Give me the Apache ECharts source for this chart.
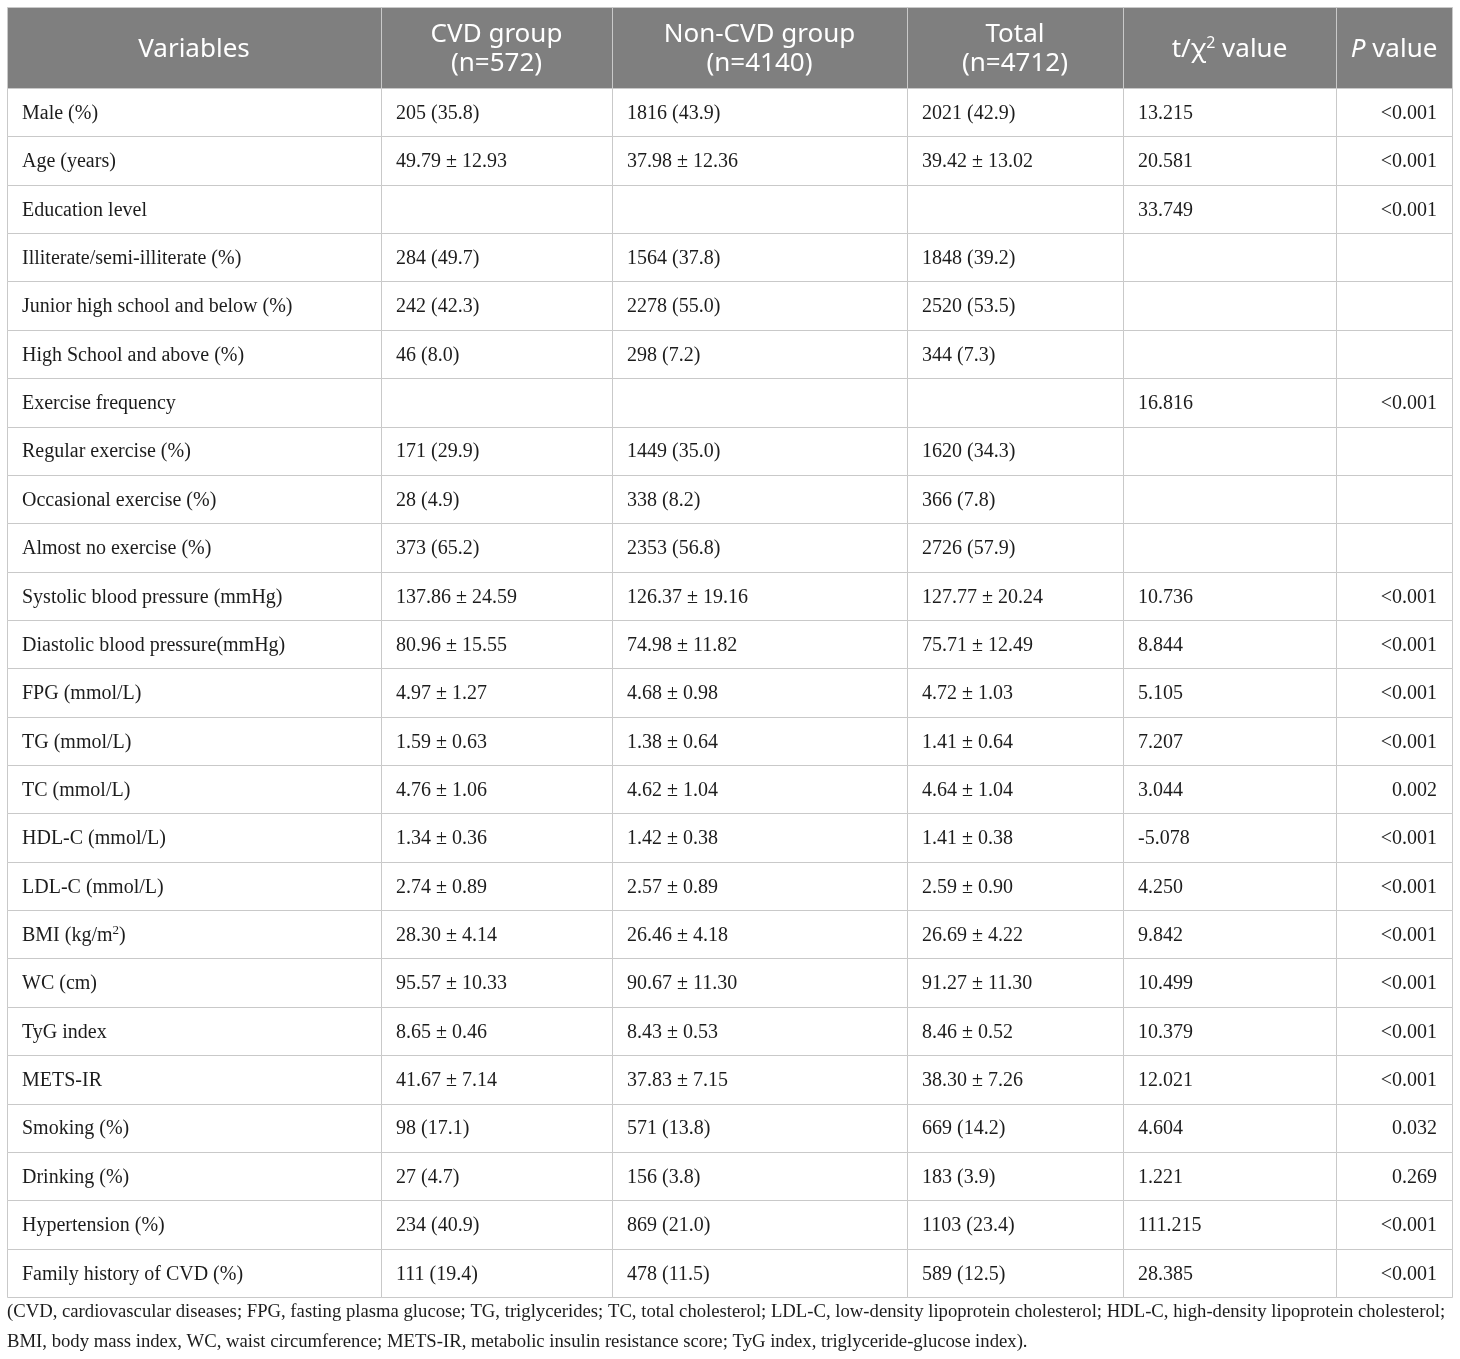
<!DOCTYPE html>
<html>
<head>
<meta charset="utf-8">
<title>CVD baseline table</title>
<script src="https://cdn.jsdelivr.net/npm/echarts@6/dist/echarts.min.js"></script>
<style>
  html, body { margin: 0; padding: 0; background: #fff; }
  #main { width: 1460px; height: 1359px; }
</style>
</head>
<body>
<div id="main"></div>
<script>
// table contents
var headers = ['Variables', 'CVD group\n(n=572)', 'Non-CVD group\n(n=4140)', 'Total\n(n=4712)', 't/χ² value', 'P value'];

var variables = [
    'Male (%)', 'Age (years)', 'Education level', 'Illiterate/semi-illiterate (%)',
    'Junior high school and below (%)', 'High School and above (%)', 'Exercise frequency',
    'Regular exercise (%)', 'Occasional exercise (%)', 'Almost no exercise (%)',
    'Systolic blood pressure (mmHg)', 'Diastolic blood pressure(mmHg)', 'FPG (mmol/L)',
    'TG (mmol/L)', 'TC (mmol/L)', 'HDL-C (mmol/L)', 'LDL-C (mmol/L)', 'BMI (kg/m²)',
    'WC (cm)', 'TyG index', 'METS-IR', 'Smoking (%)', 'Drinking (%)', 'Hypertension (%)',
    'Family history of CVD (%)'
];
var cvdGroup = [
    '205 (35.8)', '49.79 ± 12.93', '', '284 (49.7)', '242 (42.3)', '46 (8.0)', '',
    '171 (29.9)', '28 (4.9)', '373 (65.2)', '137.86 ± 24.59', '80.96 ± 15.55', '4.97 ± 1.27',
    '1.59 ± 0.63', '4.76 ± 1.06', '1.34 ± 0.36', '2.74 ± 0.89', '28.30 ± 4.14', '95.57 ± 10.33',
    '8.65 ± 0.46', '41.67 ± 7.14', '98 (17.1)', '27 (4.7)', '234 (40.9)', '111 (19.4)'
];
var nonCvdGroup = [
    '1816 (43.9)', '37.98 ± 12.36', '', '1564 (37.8)', '2278 (55.0)', '298 (7.2)', '',
    '1449 (35.0)', '338 (8.2)', '2353 (56.8)', '126.37 ± 19.16', '74.98 ± 11.82', '4.68 ± 0.98',
    '1.38 ± 0.64', '4.62 ± 1.04', '1.42 ± 0.38', '2.57 ± 0.89', '26.46 ± 4.18', '90.67 ± 11.30',
    '8.43 ± 0.53', '37.83 ± 7.15', '571 (13.8)', '156 (3.8)', '869 (21.0)', '478 (11.5)'
];
var totalGroup = [
    '2021 (42.9)', '39.42 ± 13.02', '', '1848 (39.2)', '2520 (53.5)', '344 (7.3)', '',
    '1620 (34.3)', '366 (7.8)', '2726 (57.9)', '127.77 ± 20.24', '75.71 ± 12.49', '4.72 ± 1.03',
    '1.41 ± 0.64', '4.64 ± 1.04', '1.41 ± 0.38', '2.59 ± 0.90', '26.69 ± 4.22', '91.27 ± 11.30',
    '8.46 ± 0.52', '38.30 ± 7.26', '669 (14.2)', '183 (3.9)', '1103 (23.4)', '589 (12.5)'
];
var statValue = [
    '13.215', '20.581', '33.749', '', '', '', '16.816', '', '', '',
    '10.736', '8.844', '5.105', '7.207', '3.044', '-5.078', '4.250', '9.842', '10.499',
    '10.379', '12.021', '4.604', '1.221', '111.215', '28.385'
];
var pValue = [
    '<0.001', '<0.001', '<0.001', '', '', '', '<0.001', '', '', '',
    '<0.001', '<0.001', '<0.001', '<0.001', '0.002', '<0.001', '<0.001', '<0.001', '<0.001',
    '<0.001', '<0.001', '0.032', '0.269', '<0.001', '<0.001'
];
var footnote = [
    '(CVD, cardiovascular diseases; FPG, fasting plasma glucose; TG, triglycerides; TC, total cholesterol; LDL-C, low-density lipoprotein cholesterol; HDL-C, high-density lipoprotein cholesterol;',
    'BMI, body mass index, WC, waist circumference; METS-IR, metabolic insulin resistance score; TyG index, triglyceride-glucose index).'
];

// layout
var colEdges = [0, 374, 605, 900, 1116, 1329, 1445];
var tableWidth = 1445;
var lineColor = '#c9c9c9';
var headFont = '"Noto Sans", "Open Sans", sans-serif';
var bodyFont = '"Liberation Serif", "Times New Roman", serif';
var headSize = 26;
var bodySize = 20;
var pad = 15;

var rowIndex = variables.map(function (v, i) { return String(i); });

var bodyTexts = [];
var bodyData = [];
variables.forEach(function (v, r) {
    [variables[r], cvdGroup[r], nonCvdGroup[r], totalGroup[r], statValue[r], pValue[r]].forEach(function (t, c) {
        bodyData.push([c, r]);
        bodyTexts.push(t);
    });
});
var headData = headers.map(function (h, c) { return [c, 0]; });

// turn "²" into a raised rich token
function toRich(text, key) {
    var parts = text.split('²');
    var out = '';
    parts.forEach(function (p, i) {
        if (p) out += '{' + key + '|' + p + '}';
        if (i < parts.length - 1) out += '{' + key + 'Sup|2}';
    });
    return out;
}

var richStyles = {
    h: { fontFamily: headFont, fontSize: headSize, fill: '#fff', lineHeight: 29 },
    hSup: { fontFamily: headFont, fontSize: 16, fill: '#fff', verticalAlign: 'top', lineHeight: 15 },
    hIt: { fontFamily: headFont, fontSize: headSize, fontStyle: 'italic', fill: '#fff', lineHeight: 29 },
    b: { fontFamily: bodyFont, fontSize: bodySize, fill: '#1c1c1c', lineHeight: 23 },
    bSup: { fontFamily: bodyFont, fontSize: 13, fill: '#1c1c1c', verticalAlign: 'top', lineHeight: 12 }
};

function cellRenderer(isHead) {
    return function (params, api) {
        var col = api.value(0);
        var row = api.value(1);
        var x0 = Math.round(api.coord([colEdges[col], row])[0]);
        var x1 = Math.round(api.coord([colEdges[col + 1], row])[0]);
        var mid = api.coord([0, row])[1];
        var h = api.size([0, 1])[1];
        var y0 = Math.round(mid - h / 2);
        var y1 = Math.round(mid + h / 2);
        var text = isHead ? headers[col] : bodyTexts[params.dataIndex];

        var tx, align;
        if (isHead) { tx = (x0 + x1) / 2; align = 'center'; }
        else if (col === 5) { tx = x1 - pad; align = 'right'; }
        else { tx = x0 + pad; align = 'left'; }

        var textStyle = {
            x: tx, y: mid + (isHead ? 2 : 1.5), align: align, verticalAlign: 'middle',
            fontFamily: isHead ? headFont : bodyFont,
            fontSize: isHead ? headSize : bodySize,
            lineHeight: isHead ? 29 : 23,
            fill: isHead ? '#fff' : '#1c1c1c',
            rich: richStyles
        };
        if (isHead && text === 'P value') {
            textStyle.text = '{hIt|P}{h| value}';
        } else if (text.indexOf('²') >= 0) {
            textStyle.text = toRich(text, isHead ? 'h' : 'b');
        } else {
            textStyle.text = text;
        }

        return {
            type: 'group',
            children: [
                {
                    type: 'rect',
                    shape: { x: x0 + 0.5, y: y0 + 0.5, width: x1 - x0, height: y1 - y0 },
                    style: { fill: isHead ? '#7f7f7f' : '#fff', stroke: lineColor, lineWidth: 1 }
                },
                { type: 'text', style: textStyle }
            ]
        };
    };
}

var chartDom = document.getElementById('main');
var myChart = echarts.init(chartDom);
var option;

option = {
    animation: false,
    grid: [
        { left: 7, top: 7, width: tableWidth, height: 81 },
        { left: 7, top: 88, width: tableWidth, height: 1209 }
    ],
    xAxis: [
        { gridIndex: 0, type: 'value', min: 0, max: tableWidth, show: false },
        { gridIndex: 1, type: 'value', min: 0, max: tableWidth, show: false }
    ],
    yAxis: [
        { gridIndex: 0, type: 'category', data: ['head'], inverse: true, show: false },
        { gridIndex: 1, type: 'category', data: rowIndex, inverse: true, show: false }
    ],
    graphic: footnote.map(function (line, i) {
        return {
            type: 'text',
            left: 7,
            top: 1303 + i * 30,
            style: { text: line, fontFamily: bodyFont, fontSize: 18.7, fill: '#1c1c1c' }
        };
    }),
    series: [
        {
            type: 'custom',
            xAxisIndex: 0,
            yAxisIndex: 0,
            silent: true,
            clip: false,
            renderItem: cellRenderer(true),
            data: headData
        },
        {
            type: 'custom',
            xAxisIndex: 1,
            yAxisIndex: 1,
            silent: true,
            clip: false,
            renderItem: cellRenderer(false),
            data: bodyData
        }
    ]
};

option && myChart.setOption(option);
window.addEventListener('resize', function () {
    myChart.resize();
});
</script>
</body>
</html>
